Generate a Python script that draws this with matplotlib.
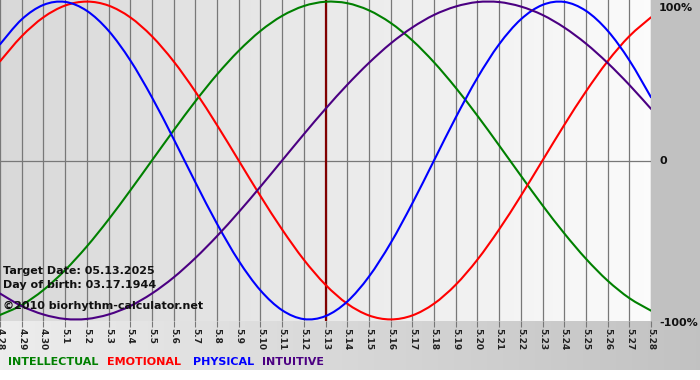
import numpy as np
import matplotlib
matplotlib.use("Agg")
import matplotlib.pyplot as plt
from matplotlib.path import Path
from matplotlib.patches import PathPatch

days = ["4.28", "4.29", "4.30", "5.1", "5.2", "5.3", "5.4", "5.5", "5.6", "5.7",
        "5.8", "5.9", "5.10", "5.11", "5.12", "5.13", "5.14", "5.15", "5.16", "5.17",
        "5.18", "5.19", "5.20", "5.21", "5.22", "5.23", "5.24", "5.25", "5.26", "5.27", "5.28"]

intellectual = [-0.972, -0.910, -0.815, -0.690, -0.541, -0.372, -0.189, 0.0, 0.189, 0.372,
                0.541, 0.690, 0.815, 0.910, 0.972, 0.999, 0.990, 0.945, 0.866, 0.756,
                0.618, 0.458, 0.282, 0.095, -0.095, -0.282, -0.458, -0.618, -0.756, -0.866, -0.945]
emotional = [0.624, 0.782, 0.901, 0.975, 1.0, 0.975, 0.901, 0.782, 0.624, 0.434,
             0.223, 0.0, -0.223, -0.434, -0.624, -0.782, -0.901, -0.975, -1.0, -0.975,
             -0.901, -0.782, -0.624, -0.434, -0.223, 0.0, 0.223, 0.434, 0.624, 0.782, 0.901]
physical = [0.731, 0.888, 0.979, 0.998, 0.942, 0.817, 0.631, 0.398, 0.136, -0.136,
            -0.398, -0.631, -0.817, -0.942, -0.998, -0.979, -0.888, -0.731, -0.520, -0.270,
            0.0, 0.270, 0.520, 0.731, 0.888, 0.979, 0.998, 0.942, 0.817, 0.631, 0.398]
intuitive = [-0.837, -0.916, -0.969, -0.997, -0.997, -0.969, -0.916, -0.837, -0.736, -0.614,
             -0.476, -0.325, -0.165, 0.0, 0.165, 0.325, 0.476, 0.614, 0.736, 0.837,
             0.916, 0.969, 0.997, 0.997, 0.969, 0.916, 0.837, 0.736, 0.614, 0.476, 0.325]

series_names = ["INTELLECTUAL", "EMOTIONAL", "PHYSICAL", "INTUITIVE"]
series_colors = ["#008000", "#ff0000", "#0000ff", "#4b0082"]
target_label = "5.13"
y_labels = ["100%", "0", "-100%"]
info_lines = ["Target Date: 05.13.2025", "Day of birth: 03.17.1944", "\u00a92010 biorhythm-calculator.net"]

W, H = 700, 380
fig = plt.figure(figsize=(W / 100, H / 100), dpi=100)

# figure background
bg = fig.add_axes([0, 0, 1, 1], zorder=-10)
bg.set_axis_off()
img = np.ones((H, W))
grad = np.linspace(0.93, 0.76, W)
img[:370, :] = grad[None, :]
img[:321, 651:] = 0.76
bg.imshow(np.dstack([img] * 3), extent=[0, W, H, 0], aspect="auto")
bg.set_xlim(0, W)
bg.set_ylim(H, 0)

ax = fig.add_axes([0, 1 - 321 / H, 651 / W, 321 / H])
n = len(days)
x = np.arange(n)
ax.set_xlim(0, n - 1)
ax.set_ylim(-1.01, 1.01)
pg = np.linspace(0.85, 0.985, 200)
ax.imshow(np.dstack([pg[None, :]] * 3), extent=[0, n - 1, -1.01, 1.01],
          aspect="auto", zorder=0)

for xi in x:
    ax.axvline(xi, color="#787878", lw=0.9, zorder=1)
ax.axhline(0, color="#787878", lw=0.9, zorder=1)

ti = days.index(target_label)
ax.axvline(ti, color="#800000", lw=1.6, zorder=2)


def smooth_path(xs, ys):
    """Cubic Bezier path through the points (Catmull-Rom tangents)."""
    xs = np.asarray(xs, float)
    ys = np.asarray(ys, float)
    pts = np.column_stack([xs, ys])
    verts = [pts[0]]
    codes = [Path.MOVETO]
    for i in range(len(pts) - 1):
        p0 = pts[i - 1] if i > 0 else pts[i]
        p1 = pts[i]
        p2 = pts[i + 1]
        p3 = pts[i + 2] if i + 2 < len(pts) else pts[i + 1]
        c1 = p1 + (p2 - p0) / 6.0
        c2 = p2 - (p3 - p1) / 6.0
        verts += [c1, c2, p2]
        codes += [Path.CURVE4] * 3
    return Path(verts, codes)


for vals, c in zip([intellectual, emotional, physical, intuitive], series_colors):
    ax.add_patch(PathPatch(smooth_path(x, vals), fill=False, edgecolor=c, lw=1.5,
                           zorder=3, capstyle="round", joinstyle="round"))

for s in ax.spines.values():
    s.set_visible(False)
ax.set_yticks([])
ax.set_xticks(x)
ax.set_xticklabels(days, rotation=270, fontsize=6.5, fontweight="bold", color="#222222")
ax.tick_params(axis="x", length=4, color="#787878", pad=1)

# right labels
for lab, yv in zip(y_labels, [0.96, 0.0, -1.02]):
    ax.text(1.0 + 8 / 651, yv, lab, transform=ax.get_yaxis_transform(),
            fontsize=8, fontweight="bold", va="center", ha="left", color="#111111", clip_on=False)

# info text
for txt, py in zip(info_lines, [271, 285, 306]):
    fig.text(3 / W, 1 - py / H, txt, fontsize=8, fontweight="bold", va="center", ha="left",
             color="#111111")

# legend-like labels
xpos = [8, 107, 193, 262]
for name, c, px in zip(series_names, series_colors, xpos):
    fig.text(px / W, 1 - 362 / H, name, fontsize=8, fontweight="bold", color=c,
             va="center", ha="left")

fig.savefig("out.png", dpi=100)
